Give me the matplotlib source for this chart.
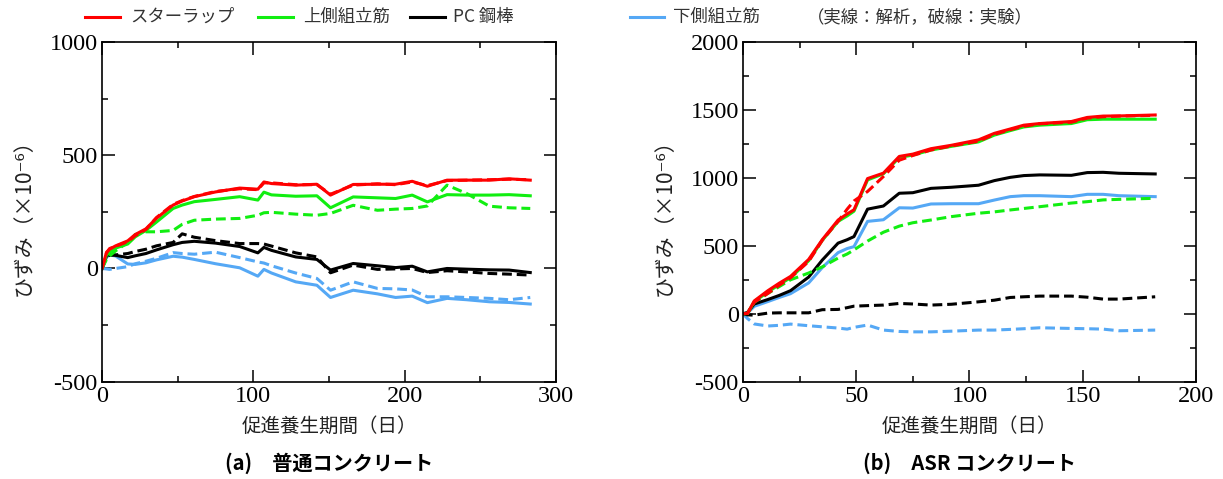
import matplotlib
matplotlib.use('Agg')
import matplotlib.pyplot as plt
from matplotlib.lines import Line2D

# (a) 普通コンクリート
days_a = [0, 3, 5, 9, 17, 22, 29, 36, 47, 53, 61, 75, 91, 103, 107, 112, 128, 142,
          151, 166, 182, 194, 205, 215, 228, 241, 256, 269, 283]
stir_ana_a = [0, 72, 85, 100, 122, 150, 175, 222, 280, 298, 317, 338, 355, 350, 382, 375, 368, 372,
              324, 371, 372, 372, 385, 363, 390, 390, 390, 396, 390]
stir_exp_a = [0, 68, 88, 98, 118, 145, 172, 225, 283, 300, 318, 340, 352, 348, 378, 378, 370, 370,
              328, 368, 374, 370, 382, 366, 388, 390, 392, 394, 392]
top_ana_a = [0, 60, 70, 90, 108, 140, 168, 205, 265, 280, 295, 305, 317, 302, 337, 325, 319, 321,
             268, 316, 312, 309, 324, 294, 326, 324, 324, 326, 321]
top_exp_a = [0, 40, 55, 78, 115, 150, 162, 162, 168, 195, 213, 218, 221, 235, 246, 248, 240, 235,
             243, 279, 257, 262, 265, 276, 368, 331, 275, 268, 265]
pc_ana_a = [0, 55, 63, 58, 48, 56, 66, 82, 105, 115, 120, 112, 97, 69, 93, 80, 51, 40,
            -7, 22, 12, 4, 10, -15, 0, -3, -6, -7, -18]
pc_exp_a = [0, 50, 58, 60, 66, 75, 85, 100, 115, 153, 138, 123, 110, 110, 108, 99, 69, 51,
            -19, 15, -4, -2, 0, -18, -10, -15, -22, -25, -29]
bot_ana_a = [0, 50, 60, 55, 20, 18, 25, 38, 54, 50, 40, 21, 3, -34, -4, -20, -59, -74,
             -128, -96, -112, -128, -122, -151, -132, -138, -147, -150, -157]
bot_exp_a = [0, -2, -4, 0, 8, 21, 32, 45, 70, 66, 63, 72, 48, 29, 24, 12, -20, -44,
             -96, -59, -88, -90, -95, -125, -125, -128, -132, -138, -128]

# (b) ASR コンクリート
days_b = [0, 2, 5, 11, 16, 21, 29, 35, 42, 46, 49, 55, 62, 69, 75, 83, 92, 104, 111,
          118, 124, 131, 145, 152, 159, 166, 182]
stir_ana_b = [0, 3, 95, 170, 225, 275, 400, 545, 690, 735, 765, 995, 1035, 1158, 1175, 1215, 1240,
              1280, 1328, 1360, 1388, 1400, 1415, 1445, 1455, 1456, 1463]
stir_exp_b = [0, 3, 85, 150, 210, 265, 385, 540, 680, 770, 830, 900, 1010, 1130, 1165, 1205, 1235,
              1270, 1320, 1355, 1380, 1398, 1410, 1440, 1450, 1455, 1460]
top_ana_b = [0, 2, 90, 160, 215, 265, 390, 540, 680, 720, 755, 985, 1030, 1150, 1168, 1205, 1232,
             1265, 1315, 1348, 1375, 1388, 1400, 1428, 1432, 1432, 1432]
top_exp_b = [0, 2, 85, 150, 200, 250, 300, 345, 410, 440, 470, 535, 600, 645, 670, 690, 715,
             740, 750, 764, 775, 788, 815, 825, 838, 842, 850]
pc_ana_b = [0, 10, 72, 105, 135, 170, 270, 395, 520, 545, 568, 770, 793, 887, 891, 923, 931,
            946, 980, 1004, 1017, 1022, 1019, 1039, 1041, 1034, 1029]
pc_exp_b = [0, -8, -10, 5, 7, 7, 7, 30, 32, 45, 56, 60, 64, 76, 72, 64, 70,
            88, 100, 120, 125, 130, 130, 122, 108, 108, 125]
bot_ana_b = [0, 5, 55, 90, 120, 148, 227, 340, 450, 480, 494, 680, 692, 780, 778, 808, 810,
             810, 837, 862, 869, 869, 862, 879, 879, 869, 862]
bot_exp_b = [0, -35, -75, -90, -85, -76, -88, -96, -105, -113, -100, -83, -120, -130, -133, -133, -128,
             -120, -120, -115, -110, -103, -108, -110, -113, -125, -120]

labels = ['スターラップ', '上側組立筋', 'PC 鋼棒', '下側組立筋']
colors = ['#ff0000', '#11ee11', '#000000', '#55a8f5']

jp = ['Noto Sans CJK JP', 'DejaVu Sans']
plt.rcParams['font.family'] = ['Liberation Serif', 'DejaVu Serif']
plt.rcParams['axes.unicode_minus'] = False

fig = plt.figure(figsize=(12.23, 4.79), dpi=100)
ax_a = fig.add_axes([0.0834, 0.2031, 0.3712, 0.7092])
ax_b = fig.add_axes([0.6075, 0.2031, 0.3704, 0.7092])

lw = 2.2
dash = (3.2, 1.6)


def draw(ax, days, series):
    # series: list of (analysis, experiment) per member, bottom layer first
    for (ana, exp), c in series:
        ax.plot(days, exp, color=c, lw=lw, dashes=dash)
        ax.plot(days, ana, color=c, lw=lw)


draw(ax_a, days_a, [((bot_ana_a, bot_exp_a), colors[3]),
                    ((pc_ana_a, pc_exp_a), colors[2]),
                    ((top_ana_a, top_exp_a), colors[1]),
                    ((stir_ana_a, stir_exp_a), colors[0])])
draw(ax_b, days_b, [((bot_ana_b, bot_exp_b), colors[3]),
                    ((pc_ana_b, pc_exp_b), colors[2]),
                    ((top_ana_b, top_exp_b), colors[1]),
                    ((stir_ana_b, stir_exp_b), colors[0])])

ax_a.set_xlim(0, 300)
ax_a.set_ylim(-500, 1000)
ax_a.set_xticks([0, 100, 200, 300])
ax_a.set_xticks([50, 150, 250], minor=True)
ax_a.set_yticks([-500, 0, 500, 1000])
ax_a.set_yticks([-250, 250, 750], minor=True)

ax_b.set_xlim(0, 200)
ax_b.set_ylim(-500, 2000)
ax_b.set_xticks([0, 50, 100, 150, 200])
ax_b.set_xticks([25, 75, 125, 175], minor=True)
ax_b.set_yticks([-500, 0, 500, 1000, 1500, 2000])
ax_b.set_yticks([-250, 250, 750, 1250, 1750], minor=True)

for ax, sub in [(ax_a, '(a)　普通コンクリート'), (ax_b, '(b)　ASR コンクリート')]:
    ax.tick_params(which='both', direction='in', top=True, right=True, width=1.1)
    ax.tick_params(which='major', length=9, labelsize=17.5, pad=3)
    ax.tick_params(which='minor', length=4.5)
    for s in ax.spines.values():
        s.set_linewidth(1.2)
    ax.text(-0.172, 0.5, 'ひずみ（×10⁻⁶）', transform=ax.transAxes, rotation=90,
            ha='center', va='center', fontsize=15, family=jp, color='#222222')
    ax.text(0.5, -0.13, '促進養生期間（日）', transform=ax.transAxes,
            ha='center', va='center', fontsize=14, family=jp, color='#222222')
    ax.text(0.5, -0.24, sub, transform=ax.transAxes,
            ha='center', va='center', fontsize=14.5, family=jp, fontweight='bold')

# legend row on top
ly = 1 - 17 / 479
entries = [(85, 120, 130), (258, 293, 303), (410, 445, 453), (630, 664, 673)]
for (x0, x1, xt), c, lab in zip(entries, colors, labels):
    fig.add_artist(Line2D([x0 / 1223, x1 / 1223], [ly, ly], color=c, lw=lw))
    fig.text(xt / 1223, ly, lab, ha='left', va='center', fontsize=12.5, family=jp, color='#333333')
fig.text(807 / 1223, ly, '（実線：解析，破線：実験）', ha='left', va='center',
         fontsize=12.5, family=jp, color='#333333')

fig.savefig('out.png', dpi=100)
